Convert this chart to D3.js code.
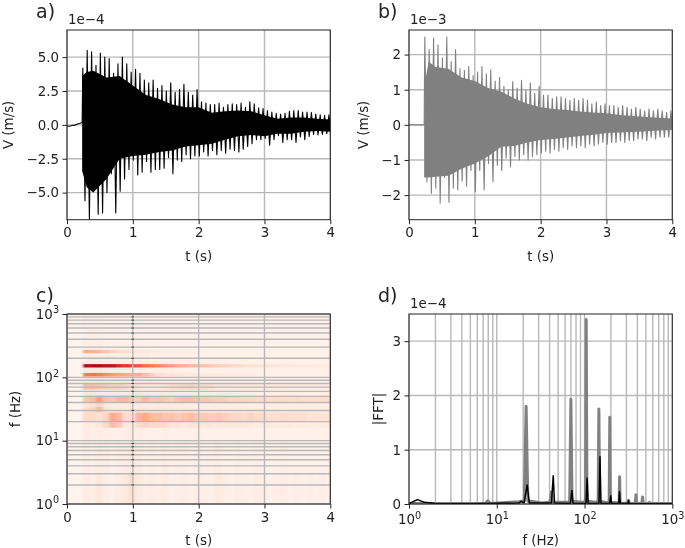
<!DOCTYPE html>
<html><head><meta charset="utf-8">
<script src="https://cdn.jsdelivr.net/npm/d3@7"></script>
<style>
html,body{margin:0;padding:0;background:#fff}
svg{display:block;filter:blur(0.35px)}
text{font-family:"DejaVu Sans";fill:#222}
</style></head><body><svg id="c" width="685" height="548"></svg>
<script>
// panel a) velocity, units of 1e-4 m/s
const preT=[0,0.04,0.08,0.12,0.16,0.2,0.23];
const preA=[-0.08,-0.1,-0.05,-0.02,0.06,0.12,0.18];
const bodyT=[0.23,0.3,0.4,0.6,0.8,1,1.2,1.4,1.6,1.8,2,2.2,2.4,2.6,2.8,3,3.2,3.4,3.6,3.8,4];
const bodyAUp=[3.6,3.9,4.0,3.5,3.6,2.9,2.2,1.9,1.5,1.3,1.3,0.9,1.0,1.05,1.0,0.7,0.45,0.55,0.55,0.45,0.4];
const bodyALo=[-3.4,-4.6,-5.0,-4.0,-2.5,-2.3,-2.2,-2.0,-1.9,-1.6,-1.5,-1.4,-1.1,-0.85,-0.75,-0.85,-0.65,-0.65,-0.5,-0.45,-0.5];
const spikeAUp=[4.2,5.5,5.4,4.4,5.3,5.0,4.9,3.8,4.5,5.0,4.5,3.9,4.1,3.8,3.3,3.1,3.3,2.7,2.9,2.5,3.1,2.4,2.6,3.0,2.4,2.2,2.6,1.7,1.6,1.5,1.5,1.6,1.3,1.5,1.55,1.5,1.6,1.3,1.7,1.55,1.25,1.2,1.05,0.95,0.85,0.8,0.85,1.0,1.05,1.05,0.95,0.95,0.9,0.8,0.75,0.7,0.75];
const spikeALo=[-5.6,-7.0,-4.6,-6.6,-6.5,-5.0,-3.6,-6.5,-4.9,-4.0,-3.3,-2.6,-3.7,-3.5,-2.7,-3.5,-3.3,-3.3,-3.2,-2.4,-3.6,-2.6,-2.7,-2.2,-2.5,-2.3,-2.3,-2.0,-2.3,-1.9,-2.2,-1.9,-2.1,-1.8,-1.9,-2.0,-1.8,-1.6,-1.4,-1.1,-1.1,-1.0,-1.5,-1.1,-0.8,-1.3,-1.1,-1.1,-1.3,-0.9,-1.1,-0.85,-0.7,-0.75,-0.7,-0.65,-0.8];
// panel b) velocity, units of 1e-3 m/s
const preB=[0,0,0,0,0,0,0];
const bodyBUp=[1.1,1.8,1.65,1.6,1.35,1.25,1.05,0.95,0.75,0.6,0.5,0.45,0.42,0.38,0.35,0.33,0.28,0.25,0.22,0.2,0.18];
const bodyBLo=[-1.5,-1.5,-1.48,-1.45,-1.25,-1.1,-0.9,-0.62,-0.6,-0.5,-0.43,-0.4,-0.36,-0.32,-0.28,-0.23,-0.22,-0.2,-0.18,-0.16,-0.15];
const spikeBUp=[2.5,2.15,2.47,2.28,1.9,2.5,1.8,2.14,1.6,1.55,1.66,1.4,1.5,1.66,1.45,1.57,1.25,1.35,1.1,1.0,1.23,1.05,1.27,1.0,1.2,0.9,1.1,0.85,0.85,0.75,0.8,0.8,0.75,0.7,0.75,0.7,0.75,0.7,0.6,0.65,0.55,0.6,0.55,0.55,0.5,0.55,0.5,0.45,0.5,0.45,0.4,0.45,0.4,0.45,0.4,0.35,0.4];
const spikeBLo=[-1.62,-1.95,-1.8,-2.23,-1.5,-2.2,-1.8,-1.85,-1.6,-1.75,-1.3,-1.9,-1.3,-1.85,-1.1,-1.62,-1.15,-1.3,-0.95,-1.2,-0.9,-1.0,-0.85,-1.0,-0.9,-0.85,-0.8,-0.75,-0.8,-0.7,-0.75,-0.65,-0.7,-0.6,-0.65,-0.6,-0.65,-0.55,-0.6,-0.55,-0.5,-0.55,-0.5,-0.5,-0.45,-0.5,-0.45,-0.45,-0.4,-0.4,-0.45,-0.35,-0.4,-0.35,-0.35,-0.35,-0.35];
const spikeStart=0.24, spikeEnd=3.98;
// panel c) spectrogram: frequency bands (Hz) and intensity per 0.1 s column from 0.24 s
const heatEdges=[1,3,10,16,20,28,34,40,52,64,80,103,118,143,162,240,272,1000];
const heatStart=0.24, heatStep=0.1;
const heatRows=[
[5,4,8,4,3,5,7,12,6,4,5,4,6,3,4,5,3,6,4,3,7,4,3,5,4,3,5,4,3,4,5,3,4,3,4,3,4,3],
[5,3,6,4,3,4,5,8,5,3,4,3,5,3,4,4,3,5,3,3,5,3,3,4,3,3,4,3,3,3,4,3,3,3,3,3,3,3],
[5,3,5,4,3,3,4,6,4,3,3,3,4,3,3,3,3,4,3,3,3,3,3,3,3,3,3,3,3,3,3,3,3,3,3,3,3,3],
[6,6,8,14,24,20,8,7,14,16,14,14,13,10,10,8,10,9,8,9,7,8,7,8,8,7,6,7,7,6,6,7,6,6,5,6,6,6],
[13,14,11,16,30,26,13,13,27,30,25,24,22,23,20,22,24,20,20,18,20,18,16,15,14,16,14,14,12,12,13,12,12,12,10,10,10,10],
[12,16,24,10,7,7,6,6,7,8,7,7,7,6,6,6,6,6,5,5,5,5,5,5,4,4,4,4,4,4,4,4,4,4,4,4,4,4],
[7,10,16,7,5,5,5,5,5,5,5,5,5,5,5,5,5,5,5,4,4,4,4,4,4,4,4,4,4,4,4,4,4,4,4,4,4,4],
[22,24,34,22,20,26,26,20,20,26,20,22,20,18,22,24,24,22,20,20,18,18,16,16,15,15,14,14,14,13,13,12,13,12,12,12,12,11],
[8,8,7,6,6,6,6,6,6,6,6,6,6,6,6,6,6,5,5,5,5,5,5,5,5,4,4,4,4,4,4,4,4,4,4,4,4,4],
[24,24,22,20,18,18,14,12,10,8,8,8,10,14,14,15,16,14,14,12,8,8,8,7,7,7,7,7,6,6,6,5,5,5,5,5,5,5],
[5,5,5,4,4,4,4,4,4,4,4,4,4,4,4,4,4,4,4,4,3,3,3,3,3,3,3,3,3,3,3,3,3,3,3,3,3,3],
[45,48,44,40,36,32,30,28,30,24,18,12,10,10,8,8,7,7,6,6,6,6,5,5,5,5,4,4,4,4,4,4,4,4,4,4,4,4],
[8,7,7,6,5,5,5,5,4,4,4,4,4,4,3,3,3,3,3,3,3,3,3,3,3,3,3,3,3,3,3,3,3,3,3,3,3,3],
[85,85,84,82,80,70,65,60,55,50,46,42,38,34,30,28,26,24,22,20,18,17,15,14,12,11,10,10,9,9,8,8,7,7,7,7,6,6],
[5,5,5,5,4,4,4,4,4,4,3,3,3,3,3,3,3,3,3,3,3,3,3,3,3,3,3,3,3,3,3,3,3,3,3,3,3,3],
[30,28,26,22,18,14,12,10,9,8,7,6,5,5,4,4,4,4,3,3,3,3,3,3,3,3,3,3,3,3,3,3,3,3,3,3,3,3],
[4,4,4,3,3,3,3,3,3,3,3,3,3,3,3,3,3,3,3,3,3,3,3,3,3,3,3,3,3,3,3,3,3,3,3,3,3,3]
];
// panel d) spectrum, units of 1e-4
const fftGreyF=[1,7.4,7.9,8.4,14,18,20.6,21.6,22.6,25,32,40,41,42,43,66,67.8,69.9,72,100,102.6,104.5,106.5,140,143,145.7,148.5,188,191,194,197,244,248,251,254,310,317,324,372,380,385,392,450,458,466,540,550,560,1000];
const fftGrey=[0.01,0.01,0.06,0.01,0.03,0.04,0.06,1.8,0.05,0.05,0.02,0.03,0.1,0.22,0.03,0.03,0.08,1.93,0.05,0.03,0.08,3.4,0.05,0.03,0.08,1.75,0.05,0.02,0.06,1.6,0.03,0.02,0.05,0.5,0.02,0.01,0.07,0.01,0.01,0.05,0.17,0.01,0.01,0.13,0.01,0.01,0.03,0.01,0.01];
const fftBlackF=[1,1.25,1.5,1.8,2,5,18,19,20.5,22.2,23.5,30,42,44,45.5,69,71.9,74,104,107,110,146,150,154,193,199,203,245,250,256,312,317,324,1000];
const fftBlack=[0.01,0.08,0.03,0.02,0.005,0.005,0.02,0.05,0.02,0.35,0.02,0.02,0.02,0.52,0.02,0.01,0.25,0.01,0.01,0.48,0.01,0.01,0.87,0.01,0.01,0.15,0.01,0.01,0.23,0.01,0.01,0.06,0.005,0.005];
const panelLabels=["a)","b)","c)","d)"];
const tTicks=[0,1,2,3,4];
const aTicks=[-5,-2.5,0,2.5,5];
const bTicks=[-2,-1,0,1,2];
const dTicks=[0,1,2,3];
const decades=[1,10,100,1000];
const minors=[];[1,10,100].forEach(d=>[2,3,4,5,6,7,8,9].forEach(m=>minors.push(d*m)));

const svg=d3.select("#c");
const L1=67,R1=330.3,L2=409,R2=672.3,T1=30,B1=219.7,T2=314,B2=504;
const FS=13.4, GRID="#b8b8b8", INK="#222";
const M="\u2212";
function fmtNum(s){return String(s).replace("-",M);}

function axes(g,x,y,xt,yt,xl,yl,xfmt,yfmt,ylabX){
  g.append("g").attr("transform",`translate(0,${y.range()[0]})`)
   .call(d3.axisBottom(x).tickValues(xt).tickSize(4.5).tickPadding(3.5).tickFormat(xfmt))
   .call(s=>s.select(".domain").remove());
  g.append("g").attr("transform",`translate(${x.range()[0]},0)`)
   .call(d3.axisLeft(y).tickValues(yt).tickSize(4.5).tickPadding(3.5).tickFormat(yfmt))
   .call(s=>s.select(".domain").remove());
  g.selectAll(".tick line").attr("stroke",INK).attr("stroke-width",1);
  g.selectAll(".tick text").attr("font-size",FS).attr("font-family","DejaVu Sans").attr("fill",INK);
  const xm=(x.range()[0]+x.range()[1])/2, ym=(y.range()[0]+y.range()[1])/2;
  g.append("text").attr("x",xm).attr("y",y.range()[0]+41).attr("text-anchor","middle").attr("font-size",FS).text(xl);
  g.append("text").attr("transform",`translate(${ylabX},${ym}) rotate(-90)`).attr("text-anchor","middle").attr("font-size",FS).text(yl);
}
function frame(g,x,y){
  g.append("rect").attr("x",x.range()[0]).attr("y",y.range()[1]).attr("width",x.range()[1]-x.range()[0]).attr("height",y.range()[0]-y.range()[1]).attr("fill","none").attr("stroke",INK).attr("stroke-width",1);
}
function gridV(g,x,y,v){g.append("g").selectAll("line").data(v).join("line").attr("x1",x).attr("x2",x).attr("y1",y.range()[0]).attr("y2",y.range()[1]).attr("stroke",GRID).attr("stroke-width",1.4);}
function gridH(g,x,y,v){g.append("g").selectAll("line").data(v).join("line").attr("y1",y).attr("y2",y).attr("x1",x.range()[0]).attr("x2",x.range()[1]).attr("stroke",GRID).attr("stroke-width",1.4);}
function sup(sel){ // write 10^n tick labels
  sel.selectAll(".tick text").each(function(d){
    const t=d3.select(this),e=Math.round(Math.log10(d));t.text("10");
    t.append("tspan").attr("font-size",FS*0.72).attr("dy","-0.55em").text(e);
  });
}
function clip(id,x,y){svg.append("clipPath").attr("id",id).append("rect").attr("x",x.range()[0]).attr("y",y.range()[1]).attr("width",x.range()[1]-x.range()[0]).attr("height",y.range()[0]-y.range()[1]);}

function wavePanel(id,L,R,dom,yt,pre,bu,bl,su,sl,color,yfmt,exp,ylabX){
  const x=d3.scaleLinear().domain([0,4]).range([L,R]);
  const y=d3.scaleLinear().domain(dom).range([B1,T1]);
  const g=svg.append("g");clip(id,x,y);
  gridV(g,x,y,tTicks);gridH(g,x,y,yt);
  const m=g.append("g").attr("clip-path",`url(#${id})`);
  const area=d3.area().x((d,i)=>x(bodyT[i])).y0((d,i)=>y(bl[i])).y1(d=>y(d));
  m.append("path").attr("d",area(bu)).attr("fill",color);
  const step=(spikeEnd-spikeStart)/(su.length-1);
  const pts=[];
  preT.forEach((t,i)=>pts.push([t,pre[i]]));
  su.forEach((v,i)=>{pts.push([spikeStart+i*step,v]);pts.push([spikeStart+(i+0.5)*step,sl[i]]);});
  const line=d3.line().x(d=>x(d[0])).y(d=>y(d[1]));
  m.append("path").attr("d",line(pts)).attr("fill","none").attr("stroke",color).attr("stroke-width",1.1).attr("stroke-linejoin","round");
  frame(g,x,y);
  axes(g,x,y,tTicks,yt,"t (s)","V (m/s)",d=>d,yfmt,ylabX);
  g.append("text").attr("x",L+1).attr("y",T1-6).attr("font-size",FS).text(exp);
}
wavePanel("ca",L1,R1,[-7,7],aTicks,preA,bodyAUp,bodyALo,spikeAUp,spikeALo,"#000",d=>fmtNum(d.toFixed(1)),"1e"+M+"4",13);
wavePanel("cb",L2,R2,[-2.7,2.7],bTicks,preB,bodyBUp,bodyBLo,spikeBUp,spikeBLo,"#808080",d=>fmtNum(d),"1e"+M+"3",368);

// c
(function(){
  const x=d3.scaleLinear().domain([0,4]).range([L1,R1]);
  const y=d3.scaleLog().domain([1,1000]).range([B2,T2]);
  const g=svg.append("g");clip("cc",x,y);
  const defs=svg.append("defs");
  defs.append("filter").attr("id","hb").attr("x","-5%").attr("y","-5%").attr("width","110%").attr("height","110%")
    .append("feGaussianBlur").attr("stdDeviation","0.9 0.6");
  const color=v=>d3.interpolateReds(v/100);
  const m=g.append("g").attr("clip-path","url(#cc)");
  const h=m.append("g").attr("filter","url(#hb)");
  h.append("rect").attr("x",L1-4).attr("y",T2-4).attr("width",R1-L1+8).attr("height",B2-T2+8).attr("fill",color(1));
  heatRows.forEach((row,r)=>{
    h.append("g").selectAll("rect").data(row).join("rect")
     .attr("x",(d,i)=>x(heatStart+i*heatStep))
     .attr("width",x(heatStep)-x(0)+0.4)
     .attr("y",y(heatEdges[r+1]))
     .attr("height",y(heatEdges[r])-y(heatEdges[r+1]))
     .attr("fill",color);
  });
  gridV(g,x,y,tTicks);gridH(g,x,y,decades.concat(minors));
  frame(g,x,y);
  axes(g,x,y,tTicks,decades,"t (s)","f (Hz)",d=>d,d=>d,20);
  g.selectAll("g").filter(function(){return this.getAttribute("transform")===`translate(${L1},0)`;})
    .call(sup)
    .call(s=>s.selectAll(".minor").data(minors).join("line").attr("class","minor").attr("x1",L1).attr("x2",L1-2.6).attr("y1",y).attr("y2",y).attr("stroke",INK).attr("stroke-width",0.8));
})();

// d
(function(){
  const x=d3.scaleLog().domain([1,1000]).range([L2,R2]);
  const y=d3.scaleLinear().domain([0,3.5]).range([B2,T2]);
  const g=svg.append("g");clip("cd",x,y);
  gridV(g,x,y,decades.concat(minors));gridH(g,x,y,dTicks);
  const m=g.append("g").attr("clip-path","url(#cd)");
  const line=d3.line().x(d=>x(d[0])).y(d=>y(d[1]));
  m.append("path").attr("d",line(fftGreyF.map((f,i)=>[f,fftGrey[i]]))).attr("fill","none").attr("stroke","#808080").attr("stroke-width",3).attr("stroke-linejoin","round");
  m.append("path").attr("d",line(fftBlackF.map((f,i)=>[f,fftBlack[i]]))).attr("fill","none").attr("stroke","#000").attr("stroke-width",1.5).attr("stroke-linejoin","round");
  frame(g,x,y);
  axes(g,x,y,decades,dTicks,"f (Hz)","|FFT|",d=>d,d=>d,383);
  const ax=g.selectAll("g").filter(function(){return this.getAttribute("transform")===`translate(0,${B2})`;});
  ax.call(sup).selectAll(".tick text").attr("dy","0.9em");
  ax.selectAll(".minor").data(minors).join("line").attr("class","minor").attr("y1",B2).attr("y2",B2+2.6).attr("x1",x).attr("x2",x).attr("stroke",INK).attr("stroke-width",0.8);
  g.append("text").attr("x",L2+1).attr("y",T2-6).attr("font-size",FS).text("1e"+M+"4");
})();

const labPos=[[36,18],[378,18],[36,302],[378,302]];
svg.append("g").selectAll("text").data(panelLabels).join("text")
  .attr("x",(d,i)=>labPos[i][0]).attr("y",(d,i)=>labPos[i][1]).attr("font-size",19).text(d=>d);
</script></body></html>
